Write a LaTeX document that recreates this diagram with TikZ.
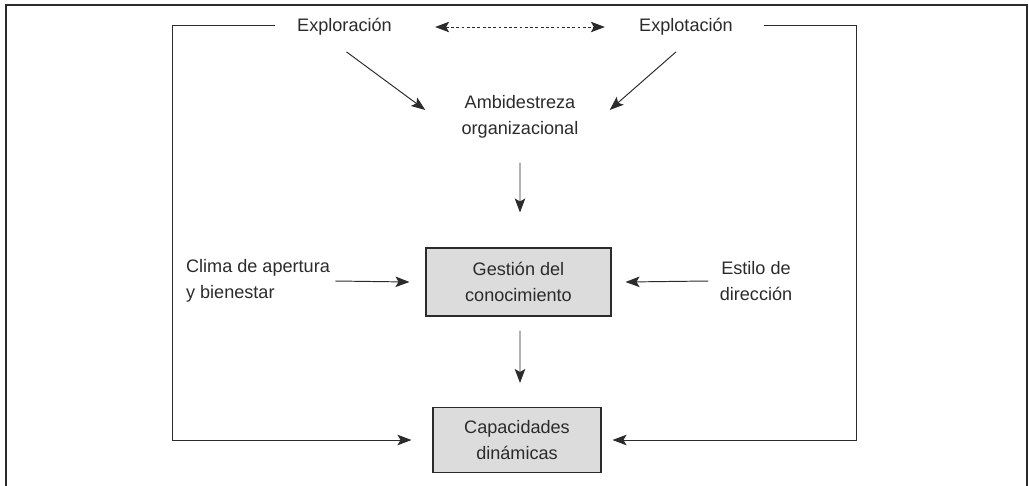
\documentclass[tikz,border=0pt]{standalone}
\usepackage{fontspec}
\setmainfont{Liberation Sans}
\usepackage{tikz}
\usetikzlibrary{arrows.meta, positioning, calc}
\definecolor{boxgray}{HTML}{DCDCDD}
\definecolor{inkgray}{HTML}{2B2B2B}
\tikzstyle{concept} = [rectangle, inner sep=0pt, text centered, text=inkgray, font=\fontsize{10.3}{14.5}\selectfont]
\tikzstyle{process} = [rectangle, text centered, draw=inkgray, fill=boxgray, line width=0.6pt, text=inkgray, font=\fontsize{10.3}{14.5}\selectfont]
\tikzstyle{arrow}   = [draw=inkgray, line width=0.55pt, -{Stealth[length=2.8mm, width=2.1mm, inset=0.6mm]}]
\tikzstyle{link}    = [draw=inkgray, line width=0.55pt, dashed, dash pattern=on 1.6pt off 1.4pt, {Stealth[length=2.8mm, width=2.1mm, inset=0.6mm]}-{Stealth[length=2.8mm, width=2.1mm, inset=0.6mm]}]
\tikzset{every node/.style={align=center}}

\begin{document}
\begin{tikzpicture}[x=0.02cm, y=-0.02cm]
    \useasboundingbox (0,0) rectangle (1029,485);
    \draw [draw=inkgray, line width=1.1pt] (6,500) -- (6,5) -- (1027,5) -- (1027,500);

    \node (explor) at (344.5, 27)  [concept] {Exploración};
    \node (explot) at (686,   27)  [concept] {Explotación};
    \node (ambi)   at (520,  117)  [concept] {Ambidestreza\\organizacional};
    \node (gest)   at (518.5,282)  [process, minimum width=3.70cm, minimum height=1.36cm] {Gestión del\\conocimiento};
    \node (capac)  at (517,  440)  [process, minimum width=3.36cm, minimum height=1.30cm] {Capacidades\\dinámicas};
    \node (clima)  at (258,  281)  [concept, align=left] {Clima de apertura\\y bienestar};
    \node (estilo) at (756,  281)  [concept] {Estilo de\\dirección};

    \draw [link]  ($(explor.east)+(43,0)$) -- ($(explot.west)+(-34,0)$);
    \draw [arrow] ($(explor.south)+(2,16)$) -- ($(ambi.west)+(-36,-7)$);
    \draw [arrow] ($(explot.south)+(-10,16)$) -- ($(ambi.east)+(31,-7)$);
    \draw [arrow] ($(ambi.south)+(0,24)$) -- ($(gest.north)+(1.5,-35)$);
    \draw [arrow] ($(gest.south)+(1.5,14)$) -- ($(capac.north)+(3,-24)$);
    \draw [arrow] ($(clima.east)+(5,0)$) -- ($(gest.west)+(-16,0)$);
    \draw [arrow] ($(estilo.west)+(-11,0)$) -- ($(gest.east)+(14,0)$);
    \draw [arrow] ($(explor.west)+(-22,-2)$) -- ++(-102,0) |- ($(capac.west)+(-21,0)$);
    \draw [arrow] ($(explot.east)+(31,-2)$) -- ++(92,0) |- ($(capac.east)+(11,0)$);
\end{tikzpicture}
\end{document}
